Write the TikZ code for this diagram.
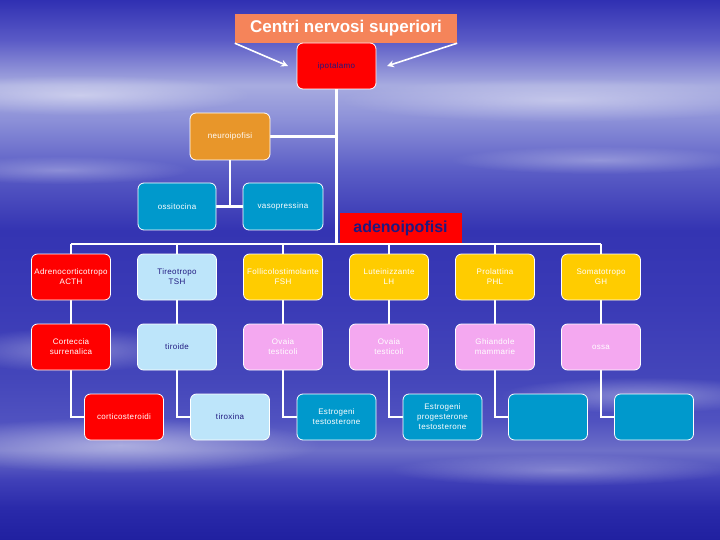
\documentclass[tikz,border=0pt]{standalone}
\usepackage{fontspec}
\setmainfont{Liberation Sans}
\newfontfamily\boxfont[LetterSpace=4]{Liberation Sans}
\usetikzlibrary{arrows.meta,fadings}
\pgfdeclarelayer{bglayer}
\pgfdeclarelayer{connlayer}
\pgfsetlayers{bglayer,connlayer,main}
\definecolor{sA}{HTML}{2020A0}
\definecolor{sB}{HTML}{2A2AAA}
\definecolor{sC}{HTML}{4040B8}
\definecolor{sD}{HTML}{6E70C8}
\definecolor{sE}{HTML}{5052C0}
\definecolor{sF}{HTML}{4446BA}
\definecolor{sG}{HTML}{3A3AB6}
\definecolor{sH}{HTML}{3434B2}
\definecolor{sI}{HTML}{5C5EC6}
\definecolor{sJ}{HTML}{8C90D8}
\definecolor{sK}{HTML}{A8ACE0}
\definecolor{sL}{HTML}{5A5AC6}
\definecolor{sM}{HTML}{3030B2}
\pgfdeclareverticalshading{skyshade}{100bp}{color(0bp)=(sA); color(25bp)=(sA); color(28bp)=(sB); color(30.6bp)=(sC); color(33.3bp)=(sD); color(36bp)=(sE); color(40bp)=(sF); color(47bp)=(sG); color(53.7bp)=(sH); color(59.3bp)=(sI); color(63.9bp)=(sJ); color(67.1bp)=(sK); color(71.3bp)=(sL); color(75bp)=(sM); color(100bp)=(sM)}
\definecolor{coral}{HTML}{F5845A}
\definecolor{boxred}{HTML}{FF0000}
\definecolor{lightblue}{HTML}{BDE5FA}
\definecolor{boxyellow}{HTML}{FFCC00}
\definecolor{boxpink}{HTML}{F4A8F0}
\definecolor{boxteal}{HTML}{0099CC}
\definecolor{boxorange}{HTML}{E8962A}
\definecolor{navy}{HTML}{201880}
\tikzfading[name=softfade, inner color=transparent!0, outer color=transparent!100]
\tikzset{
  box/.style={rounded corners=6pt, draw=white, line width=0.8pt,
    minimum width=79pt, minimum height=46pt, inner sep=1pt, align=center,
    font=\boxfont\fontsize{8}{10}\selectfont, text=white},
  redbox/.style={box, fill=boxred},
  lbbox/.style={box, fill=lightblue, text=navy},
  yelbox/.style={box, fill=boxyellow},
  pinkbox/.style={box, fill=boxpink},
  tealbox/.style={box, fill=boxteal},
  conn/.style={draw=white, line width=2.5pt},
  arr/.style={draw=white, line width=1.6pt, -{Stealth[length=7pt,width=7pt]}},
  streak/.style={fill=white, path fading=softfade}
}
\begin{document}
\begin{tikzpicture}[x=1pt,y=-1pt]
\useasboundingbox (0,0) rectangle (720,540);
\begin{pgfonlayer}{bglayer}
\shade[shading=skyshade] (0,0) rectangle (720,540);
\begin{scope}
\clip (0,0) rectangle (720,540);
\fill[streak, opacity=0.45] (80,95) ellipse (170 and 20);
\fill[streak, opacity=0.4] (560,100) ellipse (220 and 22);
\fill[streak, opacity=0.3] (600,160) ellipse (150 and 14);
\fill[streak, opacity=0.3] (60,170) ellipse (130 and 14);
\fill[streak, opacity=0.35] (70,350) ellipse (120 and 22);
\fill[streak, opacity=0.45] (120,445) ellipse (200 and 28);
\fill[streak, opacity=0.35] (640,395) ellipse (140 and 18);
\fill[streak, opacity=0.3] (560,470) ellipse (170 and 16);
\end{scope}
\end{pgfonlayer}

% top
\node[fill=coral, minimum width=222pt, minimum height=29pt, inner sep=0pt, text=white,
  font=\bfseries\fontsize{17}{17}\selectfont] (title) at (346,28.5) {Centri nervosi superiori};
\node[redbox, text=navy, minimum height=46pt] (ipo) at (336.5,66) {ipotalamo};
\coordinate (al) at (288,66);
\coordinate (ar) at (387,66);
\draw[arr] (title.south west) -- (al);
\draw[arr] (title.south east) -- (ar);

% neuroipofisi
\node[box, fill=boxorange, minimum width=80pt, minimum height=47pt] (neuro) at (230,136.5) {neuroipofisi};
\node[tealbox, minimum width=78pt, minimum height=47pt] (ossi) at (177,206.5) {ossitocina};
\node[tealbox, minimum width=80pt, minimum height=47pt] (vaso) at (283,206.5) {vasopressina};

% adenoipofisi
\coordinate (busY) at (0,244);
\node[fill=boxred, minimum width=122pt, minimum height=30pt, inner sep=0pt, text=navy,
  font=\bfseries\fontsize{16}{16}\selectfont] (adeno) at (400.5,228) {adenoipofisi};

% row 1
\node[redbox] (r1a) at (71,277) {Adrenocorticotropo\\ACTH};
\node[lbbox] (r1b) at (177,277) {Tireotropo\\TSH};
\node[yelbox] (r1c) at (283,277) {Follicolostimolante\\FSH};
\node[yelbox] (r1d) at (389,277) {Luteinizzante\\LH};
\node[yelbox] (r1e) at (495,277) {Prolattina\\PHL};
\node[yelbox] (r1f) at (601,277) {Somatotropo\\GH};

% row 2
\node[redbox] (r2a) at (71,347) {Corteccia\\surrenalica};
\node[lbbox] (r2b) at (177,347) {tiroide};
\node[pinkbox] (r2c) at (283,347) {Ovaia\\testicoli};
\node[pinkbox] (r2d) at (389,347) {Ovaia\\testicoli};
\node[pinkbox] (r2e) at (495,347) {Ghiandole\\mammarie};
\node[pinkbox] (r2f) at (601,347) {ossa};

% row 3
\node[redbox] (r3a) at (124,417) {corticosteroidi};
\node[lbbox] (r3b) at (230,417) {tiroxina};
\node[tealbox] (r3c) at (336.5,417) {Estrogeni\\testosterone};
\node[tealbox] (r3d) at (442.5,417) {Estrogeni\\progesterone\\testosterone};
\node[tealbox] (r3e) at (548,417) {};
\node[tealbox] (r3f) at (654,417) {};

\begin{pgfonlayer}{connlayer}
\draw[conn] (ipo.south) -- (ipo.south |- busY);
\draw[conn] (neuro.east) -- (neuro.east -| ipo.south);
\draw[conn] (neuro.south) -- (neuro.south |- ossi.east);
\draw[conn] (ossi.east) -- (vaso.west);
\draw[conn] (r1a.north |- busY) -- (r1f.north |- busY);
\foreach \c in {a,b,c,d,e,f}{
  \draw[conn] (r1\c.north) -- (r1\c.north |- busY);
  \draw[conn] (r1\c.south) -- (r2\c.north);
  \draw[conn] (r2\c.south) |- (r3\c.west);
}
\end{pgfonlayer}
\end{tikzpicture}
\end{document}
